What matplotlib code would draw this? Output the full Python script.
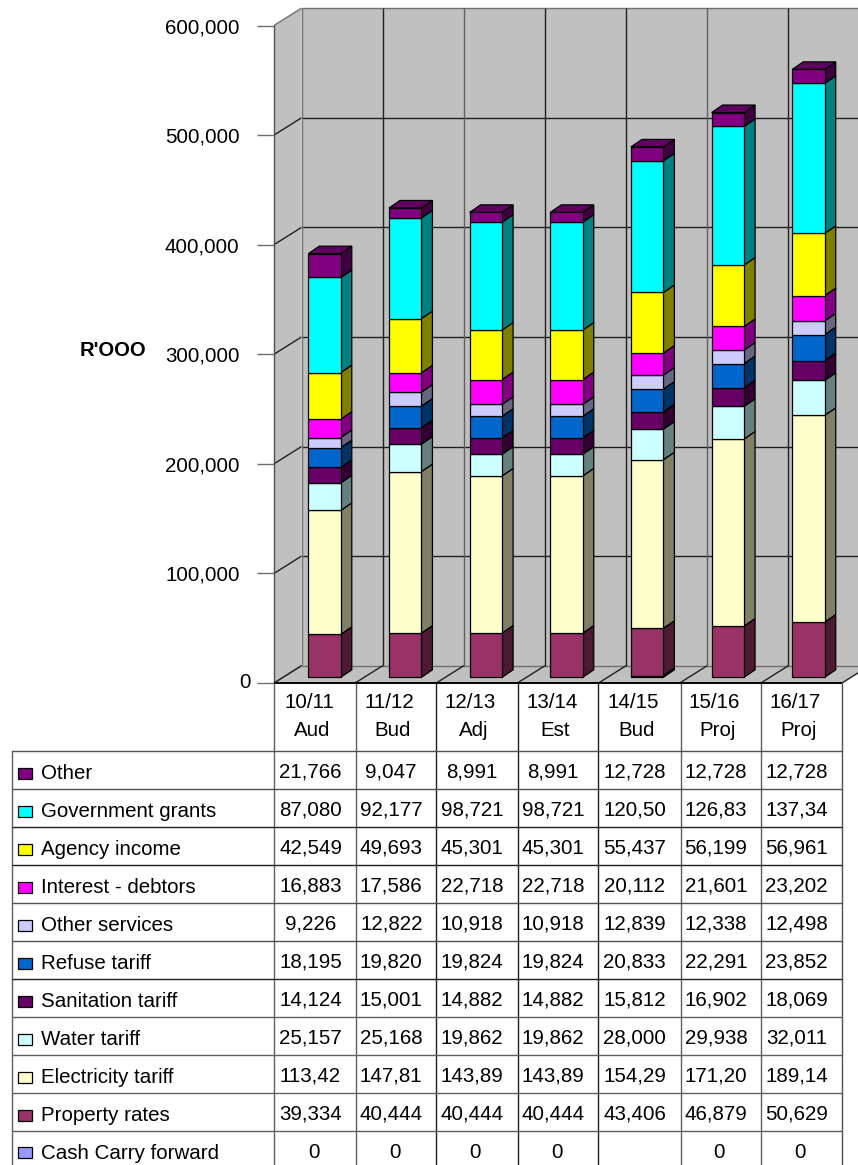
import matplotlib
matplotlib.use("Agg")
import matplotlib.pyplot as plt
from matplotlib.patches import Polygon, Rectangle
from matplotlib.transforms import ScaledTranslation

plt.rcParams['font.family'] = ['Liberation Sans', 'DejaVu Sans']

# DATA
years = ["10/11", "11/12", "12/13", "13/14", "14/15", "15/16", "16/17"]
kinds = ["Aud", "Bud", "Adj", "Est", "Bud", "Proj", "Proj"]

cash_forward = [0, 0, 0, 0, 1500, 0, 0]
property_rates = [39334, 40444, 40444, 40444, 43406, 46879, 50629]
electricity = [113420, 147810, 143890, 143890, 154290, 171200, 189140]
water = [25157, 25168, 19862, 19862, 28000, 29938, 32011]
sanitation = [14124, 15001, 14882, 14882, 15812, 16902, 18069]
refuse = [18195, 19820, 19824, 19824, 20833, 22291, 23852]
other_services = [9226, 12822, 10918, 10918, 12839, 12338, 12498]
interest = [16883, 17586, 22718, 22718, 20112, 21601, 23202]
agency = [42549, 49693, 45301, 45301, 55437, 56199, 56961]
grants = [87080, 92177, 98721, 98721, 120500, 126830, 137340]
other = [21766, 9047, 8991, 8991, 12728, 12728, 12728]

# stacking order, bottom of the column first
series = [
    ("Cash Carry forward", cash_forward, "#9999FF", "#4D4D80"),
    ("Property rates", property_rates, "#993366", "#4D1A33"),
    ("Electricity tariff", electricity, "#FFFFCC", "#808066"),
    ("Water tariff", water, "#CCFFFF", "#668080"),
    ("Sanitation tariff", sanitation, "#660066", "#330033"),
    ("Refuse tariff", refuse, "#0066CC", "#003366"),
    ("Other services", other_services, "#CCCCFF", "#666680"),
    ("Interest - debtors", interest, "#FF00FF", "#800080"),
    ("Agency income", agency, "#FFFF00", "#808000"),
    ("Government grants", grants, "#00FFFF", "#008080"),
    ("Other", other, "#800080", "#400040"),
]
cash_labels = ["0", "0", "0", "0", "", "0", "0"]

# LAYOUT (pixels)
W, H = 858, 1165
LEFT, RIGHT = 274.0, 842.0
BOTTOM, TOP = 683.0, 25.5
FONT = 14.8

fig = plt.figure(figsize=(W / 100, H / 100), dpi=100)
ax = fig.add_axes([LEFT / W, 1 - BOTTOM / H, (RIGHT - LEFT) / W, (BOTTOM - TOP) / H])
ax.set_xlim(0, 7)
ax.set_ylim(0, 600000)
ax.patch.set_alpha(0)

# size of one pixel in data units
px = 7 / (RIGHT - LEFT)
py = 600000 / (BOTTOM - TOP)

# WALLS AND FLOOR
wall_x = 27.5 * px
wall_y = 17.3 * py
WALL = "#C0C0C0"


def poly(points, face, edge="none", lw=1.0, z=1):
    ax.add_patch(Polygon(points, closed=True, facecolor=face, edgecolor=edge,
                         linewidth=lw, zorder=z, clip_on=False, joinstyle="miter"))


def line(xs, ys, color="black", lw=1.0, z=2):
    ax.plot(xs, ys, color=color, linewidth=lw, zorder=z, clip_on=False,
            solid_capstyle="butt")


poly([(wall_x, wall_y), (7 + wall_x, wall_y), (7 + wall_x, 600000 + wall_y), (wall_x, 600000 + wall_y)], WALL)
poly([(0, 0), (wall_x, wall_y), (wall_x, 600000 + wall_y), (0, 600000)], WALL)
poly([(0, 0), (7, 0), (7 + wall_x, wall_y), (wall_x, wall_y)], WALL)

# horizontal gridlines on the back and side walls
for v in range(0, 700000, 100000):
    edge = "#707070" if v in (0, 600000) else "#202020"
    line([wall_x, 7 + wall_x], [v + wall_y, v + wall_y], edge)
    line([0, wall_x], [v, v + wall_y], edge)

# vertical gridlines on the back wall and their runs across the floor
back_colors = ["#707070", "#202020", "#606060", "#202020", "#202020", "#606060", "#202020", "#606060"]
for i in range(8):
    line([i + wall_x, i + wall_x], [wall_y, 600000 + wall_y], back_colors[i])
    line([i, i + wall_x], [0, wall_y], "#202020")

# COLUMNS
bar_start = 0.423
bar_step = 0.994
bar_w = 0.40
bar_scale = 0.997
bar_lift = 5.7 * py
depth_x = 11 * px
depth_y = 7.5 * py

for i in range(len(years)):
    x0 = bar_start + i * bar_step
    x1 = x0 + bar_w
    y = bar_lift
    for name, values, face, side in series:
        v = values[i] * bar_scale
        if v == 0:
            continue
        poly([(x1, y), (x1 + depth_x, y + depth_y), (x1 + depth_x, y + v + depth_y), (x1, y + v)],
             side, "black", 0.9, 5)
        poly([(x0, y), (x1, y), (x1, y + v), (x0, y + v)], face, "black", 0.9, 5)
        y += v
    # cap of the column
    poly([(x0, y), (x1, y), (x1 + depth_x, y + depth_y), (x0 + depth_x, y + depth_y)],
         "#600060", "black", 0.9, 6)

# VALUE AXIS
ax.set_xticks([])
ax.set_yticks(range(0, 700000, 100000))
ax.set_yticklabels([f"{v:,}" for v in range(0, 700000, 100000)], fontsize=FONT)
ax.tick_params(axis="y", length=12, width=1.0, color="#707070", pad=12.8)
for s in ["top", "right", "bottom"]:
    ax.spines[s].set_visible(False)
ax.spines["left"].set_color("#505050")
ax.spines["left"].set_linewidth(1.0)
ax.spines["left"].set_zorder(3)

# the zero label sits further right than the others
zero = ax.get_yticklabels()[0]
zero.set_transform(zero.get_transform() + ScaledTranslation(0.11, 0.02, fig.dpi_scale_trans))

# DATA TABLE, drawn on an overlay in pixel units
tab = fig.add_axes([0, 0, 1, 1])
tab.set_xlim(0, W)
tab.set_ylim(H, 0)
tab.axis("off")
tab.patch.set_alpha(0)

col_edges = [274, 356, 435.5, 517.5, 598, 680.5, 760.5, 842]
col_colors = ["#606060", "#606060", "#202020", "#202020", "#202020", "#606060", "#606060", "#505050"]
head_bottom = 751
row_h = 37.95
rows = series[::-1]
row_edges = [head_bottom + r * row_h for r in range(len(rows))]
row_colors = ["#505050", "#505050", "#202020", "#202020", "#505050", "#505050",
              "#202020", "#606060", "#606060", "#606060", "#606060"]
TABLE_LEFT = 11.5

for x, c in zip(col_edges, col_colors):
    tab.plot([x, x], [BOTTOM, H], color=c, linewidth=1.0, solid_capstyle="butt")
tab.plot([TABLE_LEFT, TABLE_LEFT], [head_bottom, H], color="#606060", linewidth=1.0)
tab.plot([LEFT, RIGHT], [BOTTOM, BOTTOM], color="black", linewidth=1.4, solid_capstyle="butt")
for y, c in zip(row_edges, row_colors):
    tab.plot([TABLE_LEFT, RIGHT], [y, y], color=c, linewidth=1.0, solid_capstyle="butt")

# category headers
for i in range(len(years)):
    c = (col_edges[i] + col_edges[i + 1]) / 2
    tab.text(c - 6, 702, years[i], fontsize=FONT, ha="center", va="center")
    tab.text(c - 3, 730, kinds[i], fontsize=FONT, ha="center", va="center")

# series rows: legend key, name and values
for r, (name, values, face, side) in enumerate(rows):
    yc = row_edges[r] + row_h / 2
    tab.add_patch(Rectangle((17.5, yc - 2), 14, 11, facecolor=face, edgecolor="black", linewidth=0.9))
    tab.text(41, yc + 4, name, fontsize=FONT, ha="left", va="center")
    for i in range(len(years)):
        c = (col_edges[i] + col_edges[i + 1]) / 2
        if name == "Cash Carry forward":
            label = cash_labels[i]
            tab.text(c - 1, yc + 3, label, fontsize=FONT, ha="center", va="center")
        else:
            # long figures are cut off by the narrow column
            label = f"{values[i]:,}"[:6]
            tab.text(c - 4.5, yc + 2, label, fontsize=FONT, ha="center", va="center")

# axis title
tab.text(113, 350, "R'OOO", fontsize=14.6, fontweight="bold", ha="center", va="center")

fig.savefig("out.png", dpi=100)
